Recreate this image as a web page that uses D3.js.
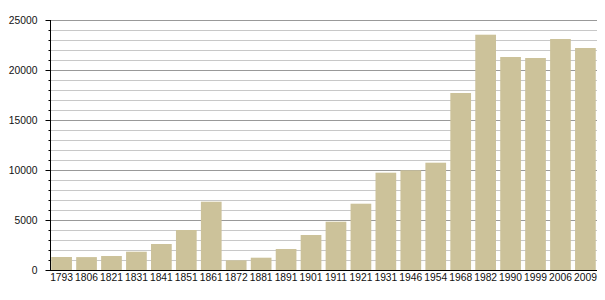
<!DOCTYPE html>
<html lang="en">
<head>
  <meta charset="UTF-8">
  <script src="https://d3js.org/d3.v7.min.js"></script>
  <title>Population</title>
  <style>
    body { margin: 0; background: #fff; }
    text { font-family: "Liberation Sans", Arial, sans-serif; font-size: 10.3px; }
  </style>
</head>
<body>
  <svg id="chart" width="605" height="300"></svg>
  <script>
    const years = ['1793', '1806', '1821', '1831', '1841', '1851', '1861', '1872', '1881', '1891', '1901',
      '1911', '1921', '1931', '1946', '1954', '1968', '1982', '1990', '1999', '2006', '2009'];
    const population = [1300, 1290, 1400, 1830, 2600, 4000, 6830, 970, 1230, 2100, 3500,
      4830, 6630, 9730, 9970, 10730, 17700, 23530, 21300, 21200, 23100, 22200];
    const majorTicks = [0, 5000, 10000, 15000, 20000, 25000];
    const minorTicks = d3.range(0, 25001, 1000);

    const svg = d3.select('#chart');
    const mLeft = 50, mRight = 597, mTop = 20, mBottom = 270;

    const x = d3.scaleBand()
      .domain(years)
      .range([mLeft, mRight])
      .paddingInner(0.17)
      .paddingOuter(0.05);

    const y = d3.scaleLinear()
      .domain([0, 25000])
      .range([mBottom, mTop]);

    // grid, minor first then major
    svg.append('g').selectAll('line')
      .data(minorTicks.filter(d => d % 5000 !== 0))
      .join('line')
      .attr('x1', mLeft).attr('x2', mRight)
      .attr('y1', d => Math.round(y(d)) + 0.5).attr('y2', d => Math.round(y(d)) + 0.5)
      .attr('stroke', '#c8c8c8');

    svg.append('g').selectAll('line')
      .data(majorTicks.filter(d => d > 0))
      .join('line')
      .attr('x1', mLeft).attr('x2', mRight)
      .attr('y1', d => Math.round(y(d)) + 0.5).attr('y2', d => Math.round(y(d)) + 0.5)
      .attr('stroke', '#999');

    // bars
    svg.append('g').selectAll('rect')
      .data(years)
      .join('rect')
      .attr('x', (d) => x(d))
      .attr('width', x.bandwidth())
      .attr('y', (d, i) => y(population[i]))
      .attr('height', (d, i) => mBottom - y(population[i]))
      .attr('fill', '#ccc29a');

    // y axis with minor ticks
    const minorAxis = d3.axisLeft(y)
      .tickValues(minorTicks)
      .tickSize(2)
      .tickFormat('');
    svg.append('g')
      .attr('transform', `translate(${mLeft + 0.5},0)`)
      .call(minorAxis)
      .call(g => g.select('.domain').remove())
      .call(g => g.selectAll('line').attr('stroke', '#000'));

    const yAxis = d3.axisLeft(y)
      .tickValues(majorTicks)
      .tickSize(5)
      .tickPadding(8)
      .tickFormat(d3.format('d'));
    svg.append('g')
      .attr('transform', `translate(${mLeft + 0.5},0)`)
      .call(yAxis)
      .call(g => g.select('.domain').attr('d', `M0,${mTop}V${mBottom}`).attr('stroke', '#000'))
      .call(g => g.selectAll('line').attr('stroke', '#000'))
      .call(g => g.selectAll('text').attr('font-family', null).attr('font-size', null).attr('fill', '#111'));

    // x axis
    const xAxis = d3.axisBottom(x).tickSize(0).tickPadding(3);
    svg.append('g')
      .attr('transform', `translate(0,${mBottom + 0.5})`)
      .call(xAxis)
      .call(g => g.select('.domain').attr('d', `M${mLeft},0H${mRight}`).attr('stroke', '#000'))
      .call(g => g.selectAll('text').attr('font-family', null).attr('font-size', null).attr('fill', '#111'));
  </script>
</body>
</html>
